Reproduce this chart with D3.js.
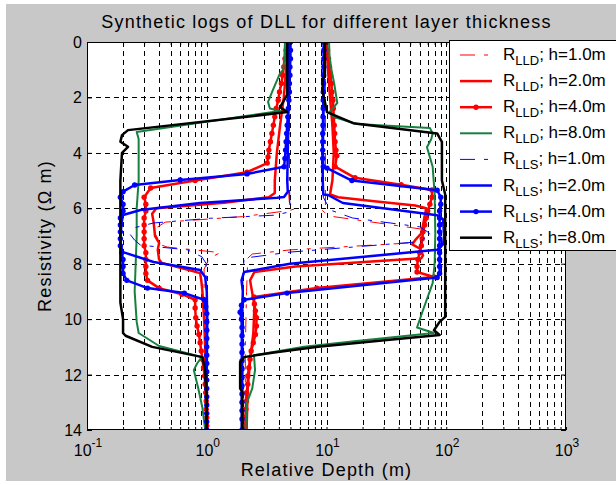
<!DOCTYPE html>
<html>
<head>
<meta charset="utf-8">
<script src="https://cdn.jsdelivr.net/npm/d3@7/dist/d3.min.js"></script>
<style>
  body { margin: 0; background: #fff; }
  text { font-family: Arial, "Liberation Sans", sans-serif; fill: #000; }
</style>
</head>
<body>
<div id="chart"></div>
<script>
// axis ticks
var xTicks = [0.1, 1, 10, 100, 1000];
var xTickExp = ["-1", "0", "1", "2", "3"];
var yTicks = [0, 2, 4, 6, 8, 10, 12, 14];

// legend text
var legendTools = ["LLD", "LLD", "LLD", "LLD", "LLS", "LLS", "LLS", "LLS"];
var legendLabels = ["h=1.0m", "h=2.0m", "h=4.0m", "h=8.0m", "h=1.0m", "h=2.0m", "h=4.0m", "h=8.0m"];

// [depth, resistivity]; Low = left branch, High = right branch
var lld1Low = [[0,4.8],[1,4.8],[2,4.75],[3,4.7],[4,4.7],[5,4.75],[5.8,4.9],[6.0,5.6],[6.08,4.9],[6.3,2.0],[6.5,0.45],[6.7,0.38],[6.9,0.37],[7.1,0.39],[7.3,0.4],[7.4,0.47],[7.6,1.3],[7.8,1.05],[8.2,0.95],[9,0.95],[10,0.97],[12,0.98],[14,1.0]];
var lld1High = [[0,9.8],[2,9.8],[4,9.8],[5.9,9.8],[6.0,8.9],[6.15,9.6],[6.3,11.4],[6.75,62],[6.9,64],[7.1,55],[7.25,50],[7.5,5.0],[7.65,2.4],[7.8,2.2],[9,2.15],[11,2.1],[14,2.1]];

var lld2Low = [[0,4.8],[1,4.6],[2,4.4],[3,4.1],[4,3.85],[5,3.7],[5.45,3.7],[5.6,3.3],[5.8,1.4],[6.0,0.38],[6.2,0.35],[6.5,0.36],[7.0,0.37],[7.25,0.4],[7.5,0.39],[7.85,0.4],[7.97,0.42],[8.34,0.88],[8.6,0.9],[9,0.92],[10,0.95],[11,0.97],[12,0.98],[14,1.0]];
var lld2High = [[0,10],[1,10.3],[2,10.7],[3,11.2],[4,11.5],[5,11.2],[5.5,10.7],[5.6,12.5],[5.75,25],[5.9,55],[6.0,68],[6.3,66],[6.6,64],[6.9,62],[7.15,55],[7.3,52],[7.45,60],[7.7,64],[7.8,62],[8.1,5.5],[8.3,2.5],[8.6,2.3],[9.5,2.5],[10.5,2.45],[11.5,2.3],[12.5,2.2],[14,2.15]];

var lld4Low = [[0,4.7],[0.3,4.6],[0.6,4.5],[0.9,4.4],[1.2,4.3],[1.5,4.2],[1.8,4.05],[2.1,3.95],[2.4,3.8],[2.7,3.7],[3.0,3.6],[3.3,3.5],[3.6,3.4],[3.9,3.3],[4.15,3.25],[4.37,3.2],[4.7,2.17],[5.0,0.8],[5.27,0.34],[5.6,0.3],[5.85,0.31],[6.1,0.31],[6.35,0.3],[6.6,0.3],[6.85,0.3],[7.1,0.3],[7.35,0.3],[7.6,0.31],[7.85,0.31],[8.1,0.31],[8.35,0.31],[8.6,0.32],[8.88,0.4],[9.1,0.62],[9.3,0.8],[9.6,0.8],[9.95,0.81],[10.25,0.83],[10.55,0.86],[10.85,0.88],[11.15,0.9],[11.45,0.92],[11.75,0.94],[12.05,0.96],[12.35,0.97],[12.65,0.98],[12.95,0.99],[13.25,0.99],[13.55,1.0],[13.85,1.0],[14,1.0]];
var lld4High = [[0,10],[0.3,10.2],[0.6,10.4],[0.9,10.6],[1.2,10.8],[1.5,11],[1.8,11.1],[2.1,11.3],[2.4,11.4],[2.7,11.5],[3.0,11.6],[3.3,11.7],[3.6,11.8],[3.9,12],[4.1,12.2],[4.5,11.8],[4.9,17.3],[5.15,42],[5.34,76],[5.6,76],[5.85,73],[6.1,70],[6.35,68],[6.6,66],[6.85,64],[7.1,63],[7.35,62],[7.6,60],[7.85,58],[8.1,57],[8.3,57],[8.48,79],[8.88,8.3],[9.2,2.48],[9.45,2.5],[9.7,2.55],[9.95,2.6],[10.25,2.6],[10.55,2.55],[10.85,2.45],[11.15,2.35],[11.45,2.3],[11.75,2.25],[12.05,2.2],[12.35,2.2],[12.65,2.15],[12.95,2.15],[13.25,2.12],[13.55,2.1],[13.85,2.1],[14,2.1]];

var lld8Low = [[0,4.5],[0.5,4.45],[1.0,4.35],[1.13,4.09],[1.73,3.57],[2.16,3.25],[2.4,3.37],[2.49,4.09],[3.25,0.26],[3.5,0.27],[4,0.27],[5,0.27],[6,0.26],[7,0.26],[8,0.255],[9,0.25],[10.1,0.26],[10.5,0.27],[10.97,0.4],[11.2,0.65],[11.37,0.91],[11.6,0.83],[11.84,0.78],[12.5,0.85],[13.2,0.92],[14,0.97]];
var lld8High = [[0,10.5],[0.5,10.6],[1.0,11],[1.5,11.6],[2.2,12.3],[2.5,10.7],[2.7,11.4],[2.96,17.9],[3.1,73],[3.3,77],[3.5,75],[3.8,69],[4.5,77],[5.5,80],[6.9,81],[8.0,80],[8.7,77],[9.67,64],[10.3,57],[10.5,79],[10.8,17],[11.0,6.5],[11.3,2.48],[11.84,2.53],[12.5,2.4],[13,2.17],[14,2.1]];

var lls1Low = [[0,4.9],[2,4.9],[4,4.9],[5,4.9],[6.0,4.95],[6.15,4.7],[6.25,3.65],[6.36,1.07],[6.53,0.36],[6.7,0.25],[6.95,0.23],[7.15,0.25],[7.33,0.28],[7.5,0.69],[7.75,0.91],[8.0,0.99],[10,1.0],[14,1.0]];
var lls1High = [[0,9.5],[2,9.5],[4,9.5],[5.6,9.4],[6.06,10.7],[6.35,16.5],[6.67,60],[6.85,70],[7.0,75],[7.1,64],[7.2,62],[7.58,5.0],[7.8,2.05],[8.5,2.0],[14,2.0]];

var lls2Low = [[0,4.85],[1,4.85],[2,4.8],[3,4.8],[4,4.75],[5,4.7],[5.4,4.75],[5.59,4.42],[5.62,3.87],[5.81,0.88],[6.06,0.28],[6.24,0.2],[6.5,0.195],[7.0,0.19],[7.3,0.19],[7.58,0.2],[7.94,0.36],[8.23,0.88],[8.48,0.97],[9,1.0],[10,1.01],[12,1.0],[14,1.0]];
var lls2High = [[0,9.5],[1,9.5],[2,9.4],[3,9.4],[4,9.3],[5,9.3],[5.5,9.4],[5.52,10.3],[5.81,13.7],[6.25,84],[6.4,94],[7.0,96],[7.3,94],[7.5,84],[8.0,4.95],[8.3,2.05],[8.6,1.95],[9,2.0],[10,1.97],[12,1.97],[14,1.97]];

var lls4Low = [[0,5.0],[0.3,5.0],[0.6,5.0],[0.9,4.95],[1.2,4.95],[1.5,4.9],[1.8,4.9],[2.1,4.85],[2.4,4.8],[2.7,4.75],[3.0,4.7],[3.3,4.65],[3.6,4.6],[3.9,4.55],[4.2,4.5],[4.5,4.42],[4.76,2.17],[4.98,0.6],[5.16,0.25],[5.4,0.2],[5.6,0.19],[5.85,0.2],[6.1,0.2],[6.35,0.19],[6.6,0.19],[6.85,0.19],[7.1,0.19],[7.35,0.19],[7.6,0.195],[7.85,0.2],[8.1,0.2],[8.35,0.2],[8.6,0.215],[8.88,0.32],[9.06,0.65],[9.3,0.95],[9.55,0.98],[9.8,1.0],[10.1,1.0],[10.4,1.0],[10.7,1.0],[11.0,1.0],[11.3,1.0],[11.6,1.0],[11.9,1.0],[12.2,1.0],[12.5,1.0],[12.8,1.0],[13.1,1.0],[13.4,1.0],[13.7,1.0],[14,1.0]];
var lls4High = [[0,9.5],[0.3,9.5],[0.6,9.5],[0.9,9.5],[1.2,9.45],[1.5,9.45],[1.8,9.4],[2.1,9.4],[2.4,9.4],[2.7,9.35],[3.0,9.35],[3.3,9.3],[3.6,9.3],[3.9,9.3],[4.2,9.3],[4.5,9.4],[4.55,10.1],[5.0,16.3],[5.35,84],[5.6,90],[5.85,90],[6.1,88],[6.35,88],[6.6,88],[6.85,88],[7.1,88],[7.35,88],[7.6,88],[7.85,88],[8.1,88],[8.35,88],[8.5,84],[9.06,4.68],[9.3,2.05],[9.5,1.95],[9.75,1.9],[10.0,1.95],[10.3,1.97],[10.6,1.97],[10.9,1.97],[11.2,1.97],[11.5,1.97],[11.8,1.97],[12.1,1.97],[12.4,1.97],[12.7,1.97],[13.0,1.97],[13.3,1.97],[13.6,1.97],[14,1.97]];

var lls8Low = [[0,4.7],[1.0,4.7],[1.9,4.7],[2.35,4.1],[2.53,4.7],[3.18,0.22],[3.36,0.196],[3.6,0.19],[3.78,0.22],[4.0,0.196],[5,0.19],[6,0.19],[7,0.19],[8,0.19],[9.4,0.19],[10.0,0.2],[10.5,0.2],[10.6,0.21],[11.0,0.35],[11.2,0.59],[11.37,0.92],[11.84,0.97],[13,1.0],[14,1.0]];
var lls8High = [[0,9.7],[1.26,9.7],[1.3,9.3],[1.8,9.3],[2.53,10.1],[2.93,16.7],[3.3,84],[3.46,88],[3.6,92],[5,92],[5.5,98],[7,98],[9,98],[9.92,98],[10.1,88],[10.4,79],[10.57,88],[10.75,32],[11.0,8.5],[11.2,3.65],[11.37,2.05],[11.55,1.9],[12.5,1.9],[12.6,1.97],[14,1.97]];

// series table, in MATLAB drawing order
var series = [
  {branches: [lld1Low, lld1High], color: "#ff0000", width: 1, dash: "15,9,4,9", dots: false},
  {branches: [lld2Low, lld2High], color: "#ff0000", width: 2.5, dash: null, dots: false},
  {branches: [lld4Low, lld4High], color: "#ff0000", width: 2.5, dash: null, dots: true},
  {branches: [lld8Low, lld8High], color: "#17803f", width: 2, dash: null, dots: false},
  {branches: [lls1Low, lls1High], color: "#0000ff", width: 1, dash: "15,9,4,9", dots: false},
  {branches: [lls2Low, lls2High], color: "#0000ff", width: 2.5, dash: null, dots: false},
  {branches: [lls4Low, lls4High], color: "#0000ff", width: 2.5, dash: null, dots: true},
  {branches: [lls8Low, lls8High], color: "#000000", width: 2.5, dash: null, dots: false}
];

var svgWidth = 616;
var svgHeight = 485;
var plot = {left: 87, top: 42, right: 566, bottom: 430};

var svg = d3.select("#chart").append("svg")
  .attr("width", svgWidth)
  .attr("height", svgHeight);

// grey figure background
svg.append("rect")
  .attr("x", 6).attr("y", 4)
  .attr("width", svgWidth - 6).attr("height", 477)
  .attr("fill", "#c8c8c8");

var x = d3.scaleLog().domain([0.1, 1000]).range([plot.left, plot.right]);
var y = d3.scaleLinear().domain([0, 14]).range([plot.top, plot.bottom]);

svg.append("rect")
  .attr("x", plot.left).attr("y", plot.top)
  .attr("width", plot.right - plot.left).attr("height", plot.bottom - plot.top)
  .attr("fill", "#fff");

svg.append("clipPath").attr("id", "clip")
  .append("rect")
  .attr("x", plot.left).attr("y", plot.top)
  .attr("width", plot.right - plot.left).attr("height", plot.bottom - plot.top);

// grid: all log ticks vertically, majors horizontally
var gridX = x.ticks().filter(function(d) { return d > 0.1 && d < 1000; });
var grid = svg.append("g")
  .attr("stroke", "#000")
  .attr("stroke-width", 1)
  .attr("stroke-dasharray", "5,4")
  .attr("shape-rendering", "crispEdges");

grid.selectAll(".gx").data(gridX).enter().append("line")
  .attr("x1", function(d) { return Math.round(x(d)) + 0.5; })
  .attr("x2", function(d) { return Math.round(x(d)) + 0.5; })
  .attr("y1", plot.top).attr("y2", plot.bottom);

grid.selectAll(".gy").data(yTicks.slice(1, -1)).enter().append("line")
  .attr("x1", plot.left).attr("x2", plot.right)
  .attr("y1", function(d) { return Math.round(y(d)) + 0.5; })
  .attr("y2", function(d) { return Math.round(y(d)) + 0.5; });

// curves
var line = d3.line()
  .x(function(d) { return x(d[1]); })
  .y(function(d) { return y(d[0]); });

var curves = svg.append("g").attr("clip-path", "url(#clip)");

series.forEach(function(s) {
  s.branches.forEach(function(branch) {
    curves.append("path")
      .datum(branch)
      .attr("d", line)
      .attr("fill", "none")
      .attr("stroke", s.color)
      .attr("stroke-width", s.width)
      .attr("stroke-dasharray", s.dash)
      .attr("stroke-linejoin", "round");
    if (s.dots) {
      curves.selectAll(null)
        .data(branch)
        .enter()
        .append("circle")
        .attr("cx", function(d) { return x(d[1]); })
        .attr("cy", function(d) { return y(d[0]); })
        .attr("r", 2.7)
        .attr("fill", s.color);
    }
  });
});

// axes box and inward ticks
var xAxisB = d3.axisBottom(x).tickValues(x.ticks()).tickSizeInner(-3).tickSizeOuter(0).tickFormat("");
var xAxisT = d3.axisTop(x).tickValues(x.ticks()).tickSizeInner(-3).tickSizeOuter(0).tickFormat("");
svg.append("g").attr("transform", "translate(0," + plot.bottom + ")").call(xAxisB);
svg.append("g").attr("transform", "translate(0," + plot.top + ")").call(xAxisT);
svg.append("g").attr("transform", "translate(" + plot.left + ",0)")
  .call(d3.axisLeft(y).tickValues(yTicks).tickSizeInner(-5).tickSizeOuter(0).tickFormat(""));
svg.append("g").attr("transform", "translate(" + plot.right + ",0)")
  .call(d3.axisRight(y).tickValues(yTicks).tickSizeInner(-5).tickSizeOuter(0).tickFormat(""));
svg.selectAll(".domain").remove();

svg.append("rect")
  .attr("x", plot.left + 0.5).attr("y", plot.top + 0.5)
  .attr("width", plot.right - plot.left - 1).attr("height", plot.bottom - plot.top - 1)
  .attr("fill", "none").attr("stroke", "#000");

// tick labels
svg.selectAll(".ylab").data(yTicks).enter().append("text")
  .attr("x", plot.left - 5)
  .attr("y", function(d) { return y(d) + 6; })
  .attr("text-anchor", "end")
  .style("font-size", "16px")
  .text(function(d) { return d; });

xTicks.forEach(function(d, i) {
  var t = svg.append("text")
    .attr("x", x(d) + 1)
    .attr("y", 456)
    .attr("text-anchor", "middle")
    .style("font-size", "16px");
  t.append("tspan").text("10");
  t.append("tspan").attr("dy", -9).style("font-size", "12px").text(xTickExp[i]);
});

// titles
svg.append("text")
  .attr("x", (plot.left + plot.right) / 2)
  .attr("y", 28)
  .attr("text-anchor", "middle")
  .style("font-size", "18px")
  .style("letter-spacing", "1.2px")
  .text("Synthetic logs of DLL for different layer thickness");

svg.append("text")
  .attr("x", (plot.left + plot.right) / 2)
  .attr("y", 476)
  .attr("text-anchor", "middle")
  .style("font-size", "18px")
  .style("letter-spacing", "1.2px")
  .text("Relative Depth (m)");

svg.append("text")
  .attr("transform", "translate(51," + ((plot.top + plot.bottom) / 2) + ") rotate(-90)")
  .attr("text-anchor", "middle")
  .style("font-size", "18px")
  .style("letter-spacing", "1.2px")
  .text("Resistivity (\u03A9 m)");

// legend
var leg = svg.append("g");
leg.append("rect")
  .attr("x", 449.5).attr("y", 40.5)
  .attr("width", 180).attr("height", 210)
  .attr("fill", "#fff").attr("stroke", "#000");

series.forEach(function(s, i) {
  var ly = 55 + i * 26.1;
  leg.append("line")
    .attr("x1", 460).attr("x2", 492)
    .attr("y1", ly).attr("y2", ly)
    .attr("stroke", s.color)
    .attr("stroke-width", s.width)
    .attr("stroke-dasharray", s.dash);
  if (s.dots) {
    leg.append("circle").attr("cx", 476).attr("cy", ly).attr("r", 2.7).attr("fill", s.color);
  }
  var t = leg.append("text")
    .attr("x", 503).attr("y", ly + 5)
    .style("font-size", "17px");
  t.append("tspan").text("R");
  t.append("tspan").attr("dy", 5).style("font-size", "13px").text(legendTools[i]);
  t.append("tspan").attr("dy", -5).text("; " + legendLabels[i]);
});
</script>
</body>
</html>
